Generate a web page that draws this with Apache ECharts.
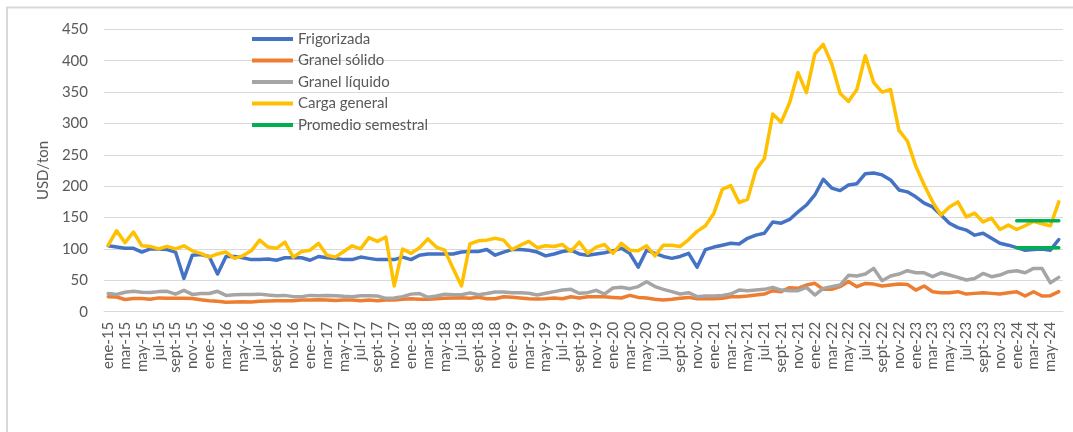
<!DOCTYPE html>
<html>
<head>
<meta charset="utf-8">
<script src="https://cdn.jsdelivr.net/npm/echarts@6/dist/echarts.min.js"></script>
<style>
  html, body { margin: 0; padding: 0; background: #fff; }
  #chart { width: 1073px; height: 432px; }
</style>
</head>
<body>
<div id="chart"></div>
<script>
// month labels as the source workbook writes them
const monthNames = ['ene', 'feb', 'mar', 'abr', 'may', 'jun', 'jul', 'ago', 'sept', 'oct', 'nov', 'dic']
const years = ['15', '16', '17', '18', '19', '20', '21', '22', '23', '24']
const monthCount = 114 // ene-15 .. jun-24

const frigorizada = [
  105, 103, 101, 101, 95, 100, 100, 99, 95, 53, 90, 91,
  88, 60, 88, 88, 86, 83, 83, 84, 82, 86, 86, 86,
  82, 88, 86, 85, 83, 83, 87, 85, 83, 83, 83, 87,
  83, 90, 92, 92, 92, 92, 95, 96, 96, 99, 90, 95,
  99, 99, 98, 95, 89, 92, 96, 98, 92, 90, 92, 94,
  97, 101, 93, 71, 98, 93, 88, 85, 88, 93, 71, 99,
  103, 106, 109, 108, 117, 122, 125, 143, 141, 147, 159, 170,
  186, 211, 197, 193, 202, 204, 220, 221, 218, 210, 194, 191,
  183, 173, 167, 154, 141, 134, 130, 122, 125, 117, 109, 106,
  102, 98, 99, 100, 98, 115
]

const granelSolido = [
  24, 23.5, 19.5, 21, 21, 20, 22, 21.5, 21.5, 21.5, 21, 19,
  17.5, 16.5, 15, 15.5, 16, 15.5, 16.5, 17, 17.5, 17.5, 17.5, 18.5,
  18.5, 19, 18.5, 18, 18.5, 18.6, 17.5, 18.6, 17.5, 18.6, 18.6, 19.7,
  20.7, 19.7, 19.7, 20.7, 21.3, 21.8, 22.3, 21.3, 22.9, 20.7, 20.7, 23.9,
  22.9, 21.8, 20.7, 20.2, 20.7, 21.8, 20.7, 23.9, 21.8, 23.9, 23.9, 23.9,
  22.8, 21.8, 26, 22.8, 21.8, 19.7, 18.6, 19.7, 21.3, 22.8, 20.7, 20.7,
  20.7, 21.3, 23.9, 23.9, 25, 26.6, 28.2, 33.5, 31.9, 38.3, 37.2, 42.5,
  45.2, 35.6, 35.6, 39.9, 48, 39.9, 45.1, 44, 40.9, 42.5, 44, 43.5,
  34.5, 40.9, 31.9, 30.3, 30.3, 31.9, 28.1, 29.2, 30.3, 29.2, 28.1, 30.3,
  31.9, 25, 31.9, 25, 25.5, 31.9
]

const granelLiquido = [
  29, 27.5, 31, 32.5, 31, 30.5, 32, 32.5, 28, 34, 27.5, 29,
  29, 32.5, 26, 27, 27.5, 27.5, 28, 26.5, 25.5, 26, 24, 24,
  26, 25.5, 26, 25.5, 24.5, 24, 25.5, 25.5, 25, 21.3, 21.8, 24,
  28, 29, 23, 25, 27.7, 27, 27, 30, 27, 29, 31.4, 31.4,
  30.3, 30.3, 29.3, 26.6, 29.3, 32, 34.5, 35.6, 29.3, 30.3, 34, 28.2,
  37.7, 38.8, 36.7, 40, 47.8, 40, 35.6, 32, 28.2, 30.3, 24, 25,
  25, 26, 28.2, 34.5, 33.5, 34.5, 35.6, 38.8, 34.5, 33.5, 33.5, 38.8,
  26.6, 37.2, 40, 42.5, 58, 57, 60, 69, 49.4, 56.8, 60, 65.3,
  62, 62, 55.8, 62, 58.4, 54.7, 50.5, 53, 61, 55.8, 58.4, 63.7,
  65.3, 62, 69, 69, 46, 54.7
]

const cargaGeneral = [
  106, 129, 110, 127, 105, 104, 100, 104, 100, 105, 97, 93,
  87, 92, 95, 85, 89, 97, 114, 103, 101, 111, 87, 96,
  98, 109, 90, 87, 96, 105, 100, 118, 112, 119, 41, 100,
  93, 102, 116, 103, 98, 69, 41, 108, 113, 114, 117, 114,
  99, 106, 112, 102, 105, 104, 107, 96, 111, 93, 103, 107,
  93, 109, 98, 97, 105, 89, 106, 106, 104, 115, 128, 137,
  157, 195, 201, 174, 179, 226, 244, 315, 302, 333, 381, 349,
  411, 426, 395, 348, 335, 354, 408, 365, 350, 354, 289, 272,
  232, 202, 175, 154, 167, 175, 151, 157, 143, 149, 131, 138,
  131, 137, 144, 140, 137, 175
]

// semester averages ene-24 .. jun-24
const promedioStart = 108
const promedioCargaGeneral = [145, 145, 145, 145, 145, 145]
const promedioFrigorizada = [102, 102, 102, 102, 102, 102]

const yTicks = { min: 0, max: 450, step: 50 }

const categories = []
years.forEach(y => monthNames.forEach(m => categories.push(m + '-' + y)))
categories.length = monthCount

const FONT = 'Lato, "Open Sans", sans-serif'
const TEXT = '#595959'
const GRID = '#d9d9d9'

function padded(values, start) {
  const out = new Array(monthCount).fill(null)
  values.forEach((v, i) => { out[start + i] = v })
  return out
}

function line(name, data, color) {
  return {
    name,
    type: 'line',
    data,
    symbol: 'none',
    showSymbol: false,
    lineStyle: { width: 3.5, color, cap: 'round', join: 'round' },
    itemStyle: { color },
    emphasis: { disabled: true },
  }
}

const chart = echarts.init(document.getElementById('chart'))
chart.setOption({
  animation: false,
  textStyle: { fontFamily: FONT },
  graphic: [{
    type: 'rect',
    z: -1,
    shape: { x: 7, y: 7.5, width: 1200, height: 600 },
    style: { fill: 'none', stroke: GRID, lineWidth: 2 },
  }],
  legend: {
    orient: 'vertical',
    left: 247,
    top: 26,
    icon: 'rect',
    itemWidth: 41,
    itemHeight: 4,
    itemGap: 5.5,
    data: ['Frigorizada', 'Granel sólido', 'Granel líquido', 'Carga general', 'Promedio semestral'],
    textStyle: { color: TEXT, fontSize: 15, lineHeight: 16, fontFamily: FONT },
  },
  grid: { left: 104, right: 10, top: 29.3, bottom: 120.3, outerBoundsMode: 'none' },
  xAxis: {
    type: 'category',
    data: categories,
    boundaryGap: true,
    axisLine: { show: true, lineStyle: { color: GRID } },
    axisTick: { show: false },
    axisLabel: { interval: 1, rotate: 90, color: TEXT, fontSize: 15, margin: 10, fontFamily: FONT },
  },
  yAxis: {
    type: 'value',
    min: yTicks.min,
    max: yTicks.max,
    interval: yTicks.step,
    name: 'USD/ton',
    nameLocation: 'middle',
    nameGap: 50,
    nameTextStyle: { color: TEXT, fontSize: 15, fontFamily: FONT },
    axisLine: { show: false },
    axisTick: { show: false },
    axisLabel: { color: TEXT, fontSize: 15, margin: 16, fontFamily: FONT },
    splitLine: { lineStyle: { color: GRID, width: 1 } },
  },
  series: [
    line('Frigorizada', frigorizada, '#4472C4'),
    line('Granel sólido', granelSolido, '#ED7D31'),
    line('Granel líquido', granelLiquido, '#A5A5A5'),
    line('Carga general', cargaGeneral, '#FFC000'),
    line('Promedio semestral', padded(promedioCargaGeneral, promedioStart), '#00B050'),
    line('Promedio semestral', padded(promedioFrigorizada, promedioStart), '#00B050'),
  ],
})
</script>
</body>
</html>
